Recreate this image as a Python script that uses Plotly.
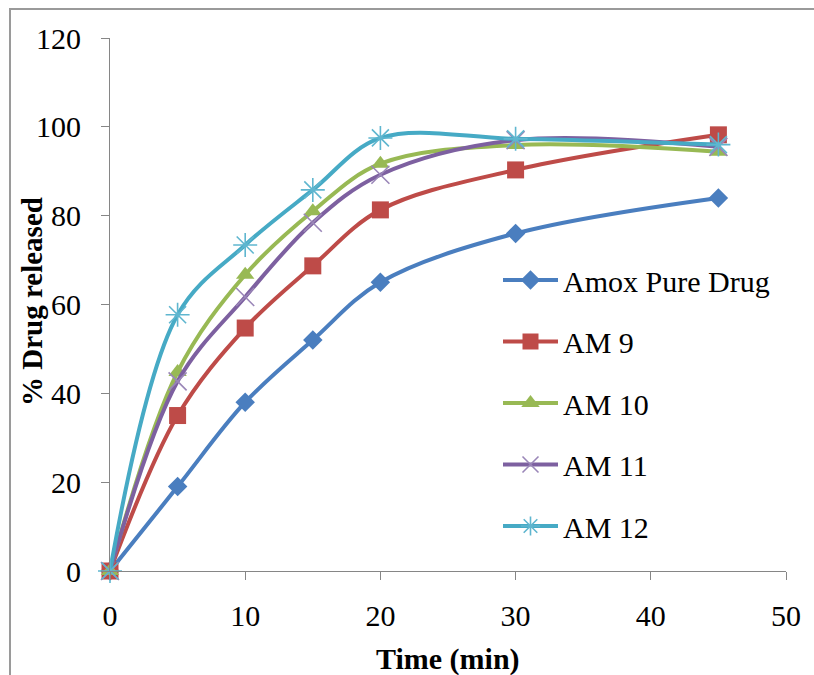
import plotly.graph_objects as go

time_min = [0, 5, 10, 15, 20, 30, 45]

series_names = ["Amox Pure Drug", "AM 9", "AM 10", "AM 11", "AM 12"]
amox_pure = [0, 19, 38, 52, 65, 76, 84]
am9 = [0, 35, 54.7, 68.7, 81.3, 90.3, 98.2]
am10 = [0, 44.8, 66.7, 81, 91.7, 95.9, 94.4]
am11 = [0, 42.7, 61.7, 78.4, 89.2, 97, 95.5]
am12 = [0, 57.7, 73.4, 85.8, 97.5, 97.3, 96]

x_ticks = [0, 10, 20, 30, 40, 50]
y_ticks = [0, 20, 40, 60, 80, 100, 120]

series_values = [amox_pure, am9, am10, am11, am12]
line_colors = ["#4A7EBF", "#BE4B48", "#98B954", "#7D60A0", "#46AAC5"]
marker_colors = ["#4A7EBF", "#BE4B48", "#98B954", "#9A86B8", "#5FB6CF"]
symbols = ["diamond", "square", "triangle-up", "x-thin", "asterisk"]
sizes = [15, 17, 16, 18, 20]

FONT = "Liberation Serif, Times New Roman, serif"

W, H = 814, 675
L, T, R, B = 110, 38, 28, 104


def px_x(p):
    return (p - 110) / 676


def px_y(p):
    return (571 - p) / 533


fig = go.Figure()
for i, (name, vals) in enumerate(zip(series_names, series_values)):
    thin = symbols[i] in ("x-thin", "asterisk")
    fig.add_trace(go.Scatter(
        x=time_min, y=vals, name=name, mode="lines+markers",
        legendgroup=name, cliponaxis=False,
        line=dict(color=line_colors[i], width=4, shape="spline", smoothing=1.0),
        marker=dict(symbol=symbols[i], size=sizes[i], color=marker_colors[i],
                    line=dict(color=marker_colors[i], width=1.6 if thin else 0)),
    ))

fig.update_layout(
    width=W, height=H,
    margin=dict(l=L, r=R, t=T, b=B, autoexpand=False),
    paper_bgcolor="white", plot_bgcolor="white",
    font=dict(family=FONT, size=30, color="black"),
    showlegend=True,
    legend=dict(x=px_x(498), y=px_y(254), xanchor="left", yanchor="top",
                font=dict(family=FONT, size=30, color="black"),
                bgcolor="rgba(0,0,0,0)", itemwidth=55, tracegroupgap=19.5),
    xaxis=dict(range=[0, 50], tickvals=x_ticks, ticks="outside", ticklen=8,
               tickcolor="#868686", showline=True, linecolor="#868686", linewidth=1,
               showgrid=False, zeroline=False, ticklabelstandoff=10,
               tickfont=dict(family=FONT, size=30)),
    yaxis=dict(range=[0, 120], tickvals=y_ticks, ticks="outside", ticklen=8,
               tickcolor="#868686", showline=True, linecolor="#868686", linewidth=1,
               showgrid=False, zeroline=False, ticklabelstandoff=14,
               tickfont=dict(family=FONT, size=30)),
    annotations=[
        dict(text="<b>Time (min)</b>", xref="paper", yref="paper", x=0.5,
             y=px_y(659), xanchor="center", yanchor="middle",
             showarrow=False, font=dict(family=FONT, size=30)),
        dict(text="<b>% Drug released</b>", xref="paper", yref="paper",
             x=px_x(32), y=px_y(302), xanchor="center",
             yanchor="middle", textangle=-90, showarrow=False,
             font=dict(family=FONT, size=29)),
    ],
    shapes=[dict(type="rect", xref="paper", yref="paper",
                 x0=px_x(10), x1=px_x(840),
                 y0=px_y(700), y1=px_y(9),
                 line=dict(color="#9A9A9A", width=2), layer="below")],
)

fig.write_html(
    "out.html",
    config={"displayModeBar": False},
    post_script="document.body.style.margin='0';document.body.style.overflow='hidden';",
)
